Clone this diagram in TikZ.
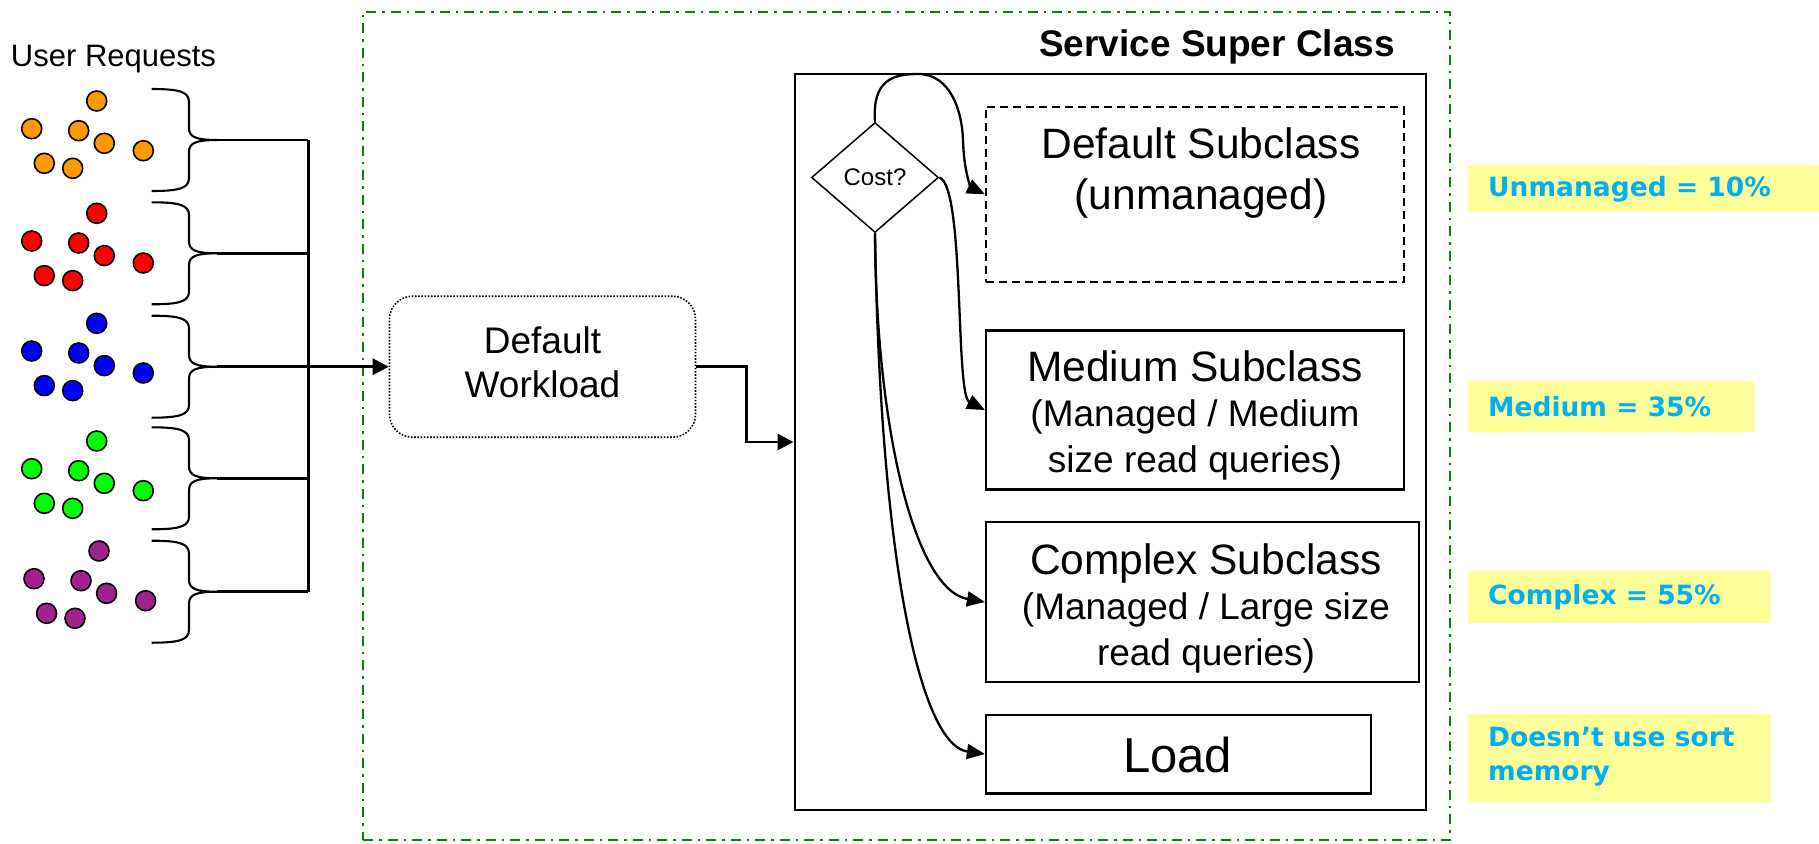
\documentclass[tikz,border=0pt]{standalone}
\usepackage{fontspec}
\setmainfont{Liberation Sans}
\newfontfamily\notefont{DejaVu Sans}
\usetikzlibrary{arrows.meta,shapes.geometric}

\definecolor{dotorange}{HTML}{FF9900}
\definecolor{dotred}{HTML}{FF0000}
\definecolor{dotblue}{HTML}{0000FF}
\definecolor{dotgreen}{HTML}{00FF00}
\definecolor{dotpurple}{HTML}{A3218E}
\definecolor{framegreen}{HTML}{008A00}
\definecolor{noteyellow}{HTML}{FFFF99}
\definecolor{notecyan}{HTML}{00B0F0}

\tikzset{
  reqdot/.style={draw=black, line width=1.6pt},
  bracepath/.style={line width=2.1pt},
  link/.style={line width=2.8pt},
  arrowlink/.style={line width=2.8pt, -{Triangle[length=16pt,width=16pt]}},
  curvelink/.style={line width=2.3pt, -{Triangle[length=18pt,width=15pt]}},
  subbox/.style={draw, line width=2.2pt, rectangle, inner sep=0pt},
  boxtext/.style={align=center, inner sep=0pt},
  notebox/.style={fill=noteyellow, rectangle, inner sep=0pt},
  notetext/.style={text=notecyan, font=\notefont\bfseries\fontsize{26.5}{34}\selectfont,
    anchor=west, align=left, inner sep=0pt},
}

% one cluster of seven request dots
\newcommand\reqgroup[3]{%
  \foreach \dx/\dy in {96.7/0, 31.7/27.7, 78.7/29.7, 104.3/42.3, 143.3/49.7, 44.3/62.3, 72.7/67.3}
    \filldraw[reqdot, fill=#1] (#2+\dx, #3+\dy) circle (10pt);%
}

\begin{document}
\begin{tikzpicture}[x=1pt, y=-1pt]
\useasboundingbox (0,0) rectangle (1819,843);

% caption of the request clusters
\node[inner sep=0pt] (userreq) at (113.5,59) {\fontsize{31}{36}\selectfont User Requests};

% request clusters
\reqgroup{dotorange}{0}{101}
\reqgroup{dotred}{0}{213.3}
\reqgroup{dotblue}{0}{323.3}
\reqgroup{dotgreen}{0}{441}
\reqgroup{dotpurple}{2.3}{551}

% curly braces gathering each cluster
\foreach \t [count=\i] in {140,253.3,366.7,478.3,591.7} {
  \draw[bracepath] (151.7,\t-51) .. controls (180,\t-51) and (189,\t-48) .. (189,\t-38)
    -- (189,\t-12) .. controls (189,\t-3) and (196,\t) .. (217,\t)
    .. controls (196,\t) and (189,\t+3) .. (189,\t+12)
    -- (189,\t+38) .. controls (189,\t+48) and (180,\t+51) .. (151.7,\t+51);
  \coordinate (tip\i) at (217,\t);
  \coordinate (join\i) at (308.3,\t);
}

% dash-dot frame of the service super class
\node[draw=framegreen, line width=2.4pt, dash pattern=on 10pt off 6pt on 2.5pt off 6pt,
  minimum width=1087pt, minimum height=828pt, inner sep=0pt] (frame) at (906.5,425.8) {};
\node[inner sep=0pt] (suptitle) at (1217,47) {\fontsize{37}{42}\selectfont\bfseries Service Super Class};

% default workload
\node[draw, line width=1.6pt, dash pattern=on 1.6pt off 1.6pt, rounded corners=23pt,
  minimum width=306pt, minimum height=141pt, inner sep=0pt] (wl) at (542.5,366.7) {};
\node[boxtext, font=\fontsize{37}{44}\selectfont] (wltxt) at (542.5,362.5) {Default\\Workload};

% super class box
\node[draw, line width=2.4pt, minimum width=631pt, minimum height=735.5pt, inner sep=0pt] (sup) at (1110.2,442) {};

% cost decision
\node[diamond, draw, line width=1.5pt, minimum width=127pt, minimum height=110pt, inner sep=0pt,
  font=\fontsize{24}{28}\selectfont] (cost) at (875,177.5) {Cost?};

% subclasses
\node[subbox, dash pattern=on 8pt off 5pt, minimum width=417.6pt, minimum height=175.2pt] (dsub) at (1194.8,194.3) {};
\node[boxtext, font=\fontsize{42.5}{51}\selectfont] (dsubtxt) at (1201,173) {Default Subclass\\(unmanaged)};

\node[subbox, minimum width=417.6pt, minimum height=159pt] (med) at (1194.8,410) {};
\node[boxtext, font=\fontsize{37}{45.5}\selectfont] (medtxt) at (1195,415)
  {{\fontsize{42.5}{45.5}\selectfont Medium Subclass}\\(Managed / Medium\\size read queries)};

\node[subbox, minimum width=432.7pt, minimum height=160pt] (cplx) at (1202.4,602) {};
\node[boxtext, font=\fontsize{37}{45.5}\selectfont] (cplxtxt) at (1206,608)
  {{\fontsize{42.5}{45.5}\selectfont Complex Subclass}\\(Managed / Large size\\read queries)};

\node[subbox, minimum width=385pt, minimum height=78.8pt] (load) at (1178.5,754) {};
\node[boxtext] (loadtxt) at (1177.5,755) {\fontsize{49}{55}\selectfont Load};

% shares of each subclass
\node[notebox, minimum width=351.5pt, minimum height=47pt] (n1) at (1643.25,188) {};
\node[notetext] (n1txt) at (1488,189.5) {Unmanaged = 10\%};
\node[notebox, minimum width=287.5pt, minimum height=51pt] (n2) at (1611.25,406.5) {};
\node[notetext] (n2txt) at (1488,406.5) {Medium = 35\%};
\node[notebox, minimum width=303.9pt, minimum height=52pt] (n3) at (1619.45,597) {};
\node[notetext] (n3txt) at (1488,597) {Complex = 55\%};
\node[notebox, minimum width=303.9pt, minimum height=88pt] (n4) at (1619.45,758) {};
\node[notetext] (n4txt) at (1488,757) {Doesn’t use sort\\memory};

% request flow into the workload
\foreach \i in {1,2,4,5} \draw[link] (tip\i) -- (join\i);
\draw[link] (join1) -- (join5);
\draw[arrowlink] (tip3) -- (wl.west);
\draw[arrowlink] (wl.east) -- ++(50,0) |- (sup.west);

% routing by cost
\draw[curvelink] (cost.north) .. controls (872,80) and (893,74) .. (918,74)
  .. controls (950,74) and (962,110) .. (963,140)
  .. controls (964,175) and (972,188) .. (dsub.west);
\draw[curvelink] (cost.east) .. controls (965,185) and (955,395) .. (med.west);
\draw[curvelink] (cost.south) .. controls (876,430) and (915,590) .. (cplx.west);
\draw[curvelink] (cost.south) .. controls (880,560) and (920,745) .. (load.west);
\end{tikzpicture}
\end{document}
